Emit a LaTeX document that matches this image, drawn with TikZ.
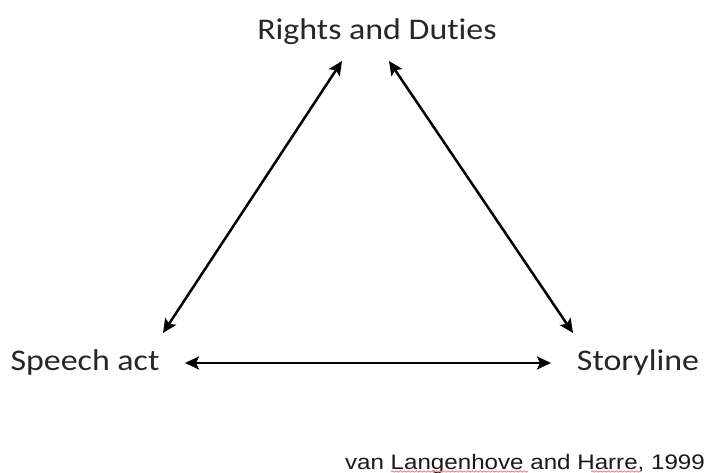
\documentclass[tikz,border=0pt]{standalone}
\usepackage{fontspec}
\setmainfont[Ligatures=NoCommon]{Carlito}
\newfontfamily\arialfont{Liberation Sans}
\usetikzlibrary{arrows.meta,decorations.pathmorphing}
\begin{document}
\begin{tikzpicture}[x=1pt,y=1pt,
  lbl/.style={inner sep=0pt,text=black!85,font=\fontsize{30}{36}\selectfont},
  biarrow/.style={line width=2.5pt,{Stealth[length=14pt,width=13pt,inset=3pt]}-{Stealth[length=14pt,width=13pt,inset=3pt]}},
  squiggle/.style={draw=red!45!pink!80,line width=1pt,decorate,decoration={snake,segment length=4pt,amplitude=0.6pt}}]
\useasboundingbox[fill=white] (0,0) rectangle (717,473);
\node[lbl] (rd) at (377,441) {\scalebox{1.13}[1]{Rights and Duties}};
\node[lbl] (sa) at (85,110) {\scalebox{1.13}[1]{Speech act}};
\node[lbl] (sl) at (638,110) {\scalebox{1.13}[1]{Storyline}};
\node[inner sep=0pt,anchor=base,text=black!90,font=\arialfont\fontsize{21}{25}\selectfont] (cit) at (525,3) {\scalebox{1.15}[1]{van Langenhove and Harre, 1999}};
\coordinate (rdl) at (342,412);
\coordinate (rdr) at (389,412);
\coordinate (sat) at (163,140);
\coordinate (sar) at (185,110);
\coordinate (slt) at (573,140);
\coordinate (sll) at (551,110);
\draw[biarrow] (rdl) -- (sat);
\draw[biarrow] (rdr) -- (slt);
\draw[biarrow] (sar) -- (sll);
\coordinate (u1a) at (391,1.5);
\coordinate (u1b) at (528,1.5);
\coordinate (u2a) at (591,1.5);
\coordinate (u2b) at (641,1.5);
\draw[squiggle] (u1a) -- (u1b);
\draw[squiggle] (u2a) -- (u2b);
\end{tikzpicture}
\end{document}
